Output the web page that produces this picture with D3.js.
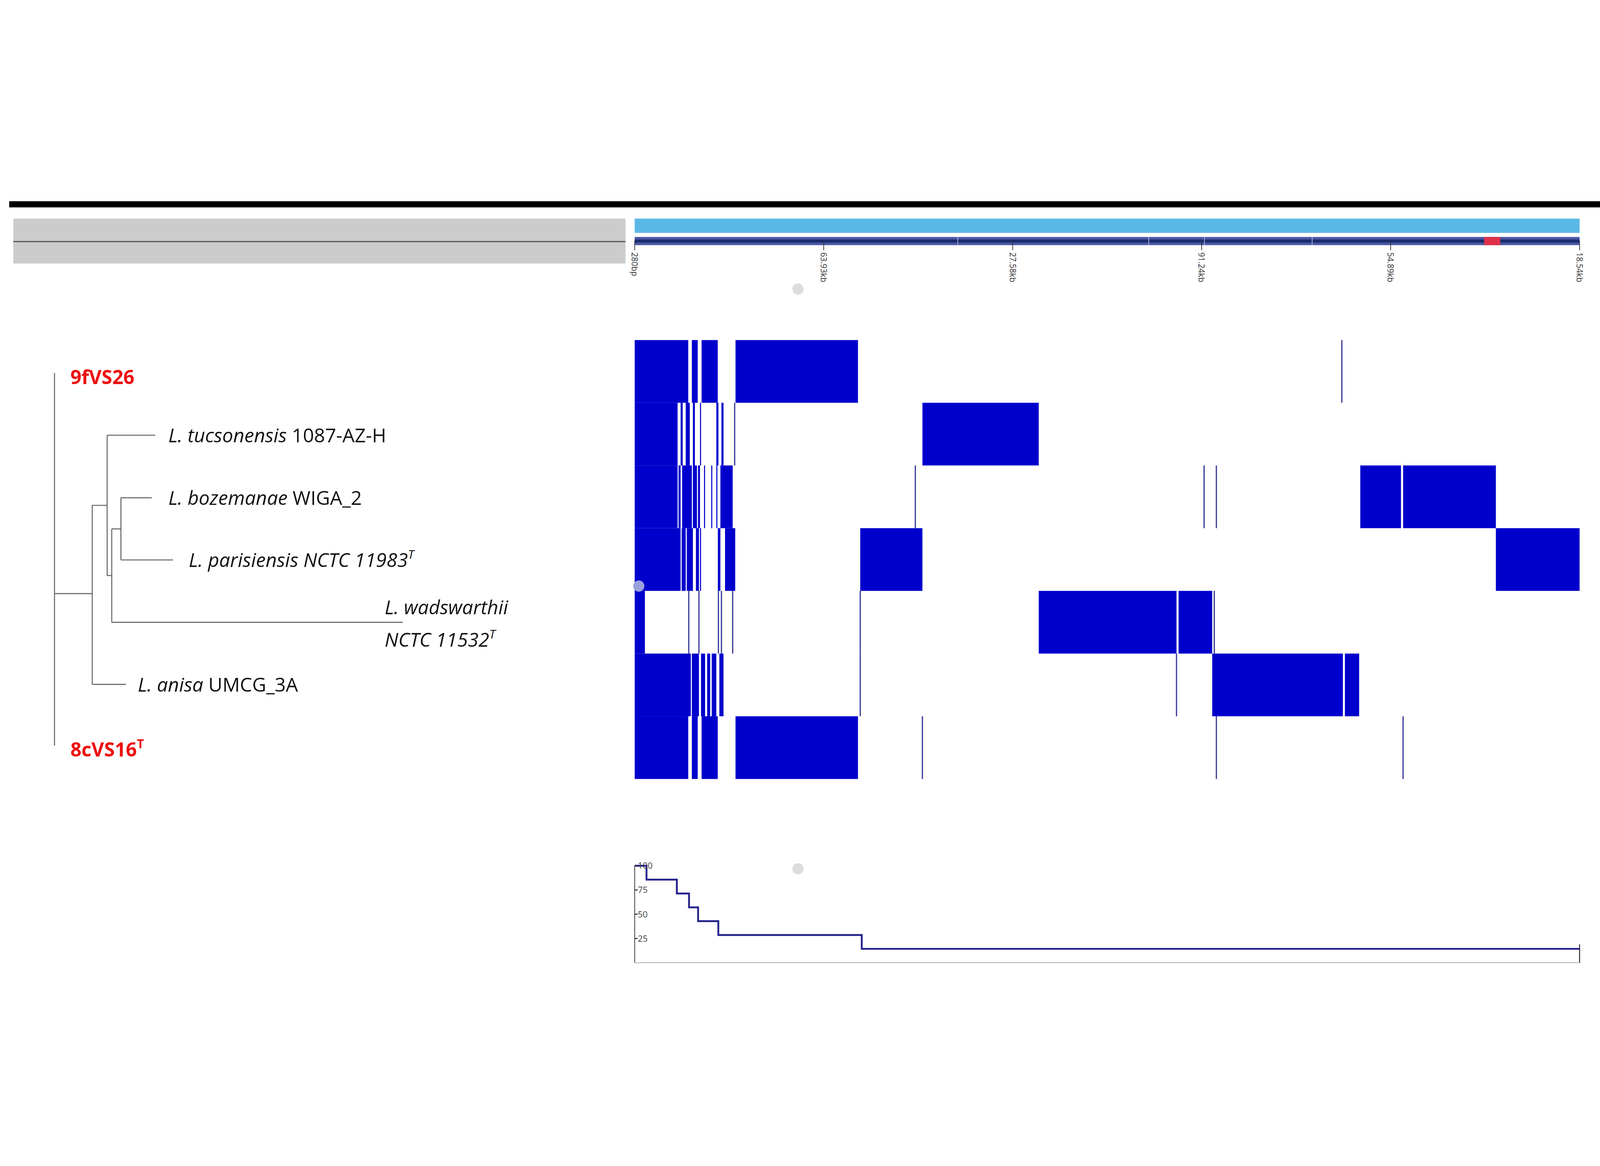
<!DOCTYPE html>
<html>
<head>
<meta charset="utf-8">
<script src="https://cdn.jsdelivr.net/npm/d3@7"></script>
<style>
html,body{margin:0;padding:0;background:#fff;width:100%;height:100%;overflow:hidden;}
#chart{width:100vw;height:100vh;}
text{font-family:"Open Sans",sans-serif;}
</style>
</head>
<body>
<div id="chart"></div>
<script>
// genome tick labels along the top ruler
var tickLabels = ["280bp","63.93kb","27.58kb","91.24kb","54.89kb","18.54kb"];
// aligned blocks per genome row, positions in % of reference genome
var blocks = [
  [[0,5.67],[6.05,6.67],[7.08,8.79],[10.67,23.63]],
  [[0,4.54],[4.86,5.08],[5.40,5.83],[6.16,6.37],[6.91,7.02],[8.64,8.86],[9.18,9.40],[30.45,42.76]],
  [[0,4.54],[4.64,4.86],[5.02,6.05],[6.16,6.59],[6.70,6.91],[7.34,7.45],[8.10,8.21],[8.64,8.75],[9.07,10.37],[76.79,81.10],[81.32,91.14]],
  [[0,4.86],[4.97,5.40],[5.51,6.16],[6.48,6.80],[6.91,7.02],[8.80,9.07],[9.56,10.64],[23.87,30.45],[91.14,100]],
  [[0,1.08],[42.76,57.34],[57.56,61.12]],
  [[0,5.94],[6.05,6.80],[7.02,7.45],[7.67,7.99],[8.15,8.64],[8.96,9.40],[61.12,74.95],[75.16,76.67]],
  [[0,5.67],[6.05,6.67],[7.08,8.79],[10.67,23.63]]
];
// thin single-line matches per row
var thinLines = [
  [74.84],
  [10.58],
  [29.70,60.26,61.56],
  [],
  [5.72,6.80,8.86,9.18,10.37,23.87,61.34],
  [23.87,57.34],
  [30.45,61.56,81.32]
];
// coverage step profile (start %, value)
var stepStarts = [0,1.25,4.46,5.75,6.71,8.85,24.03,100];
var stepValues = [100,85.7,71.4,57.1,42.9,28.6,14.3,14.3];
var yTicks = [25,50,75,100];

// tree leaves
var leaves = [
  {name:"9fVS26", y:183},
  {it:"L. tucsonensis", rest:" 1087-AZ-H", y:241},
  {it:"L. bozemanae", rest:" WIGA_2", y:302.5},
  {it:"L. parisiensis NCTC 11983", sup:"T", y:363.4},
  {it:"L. wadswarthii", it2:"NCTC 11532", sup:"T", y:424.5},
  {it:"L. anisa", rest:" UMCG_3A", y:485.3},
  {name:"8cVS16", sup:"T", y:548}
];

var W = 1568, H = 772;
var svg = d3.select("#chart").append("svg")
  .attr("width", "100%").attr("height", "100%")
  .attr("viewBox", "0 0 " + W + " " + H)
  .attr("preserveAspectRatio", "xMidYMid meet");

var x = d3.scaleLinear().domain([0,100]).range([622,1548]);
var rowY = d3.scaleBand().domain(d3.range(7)).range([148,578]).padding(0);

// top black bar
svg.append("rect").attr("x",9).attr("y",12).attr("width",W-9).attr("height",6).attr("fill","#000");
// grey box with line
svg.append("rect").attr("x",13).attr("y",29).attr("width",600).attr("height",44).attr("fill","#cccccc");
svg.append("line").attr("x1",13).attr("x2",613).attr("y1",51.5).attr("y2",51.5).attr("stroke","#555").attr("stroke-width",1.2);

// overview bars
svg.append("rect").attr("x",x(0)).attr("y",29).attr("width",x(100)-x(0)).attr("height",14).attr("fill","#5ab8e6");
svg.append("rect").attr("x",x(0)).attr("y",47).attr("width",x(100)-x(0)).attr("height",8).attr("fill","#4a56a6");
svg.append("rect").attr("x",x(0)).attr("y",49.5).attr("width",x(100)-x(0)).attr("height",3).attr("fill","#1b2d6e");
svg.append("rect").attr("x",x(89.9)).attr("y",47).attr("width",x(91.6)-x(89.9)).attr("height",8).attr("fill","#e0304a");
[34.2,54.4,60.3,71.7].forEach(function(p){
  svg.append("line").attr("x1",x(p)).attr("x2",x(p)).attr("y1",47).attr("y2",55).attr("stroke","#c8cde8").attr("stroke-width",0.6);
});

var tx = d3.scaleLinear().domain([0,tickLabels.length-1]).range([x(0),x(100)]);
tickLabels.forEach(function(lab,i){
  svg.append("line").attr("x1",tx(i)).attr("x2",tx(i)).attr("y1",51).attr("y2",60).attr("stroke","#333").attr("stroke-width",0.7);
  svg.append("text").attr("transform","translate("+(tx(i)-3)+",62) rotate(90)")
    .attr("font-size",8).attr("fill","#333").attr("font-family","Arial, sans-serif").text(lab);
});

// blocks
blocks.forEach(function(row,r){
  svg.selectAll(null).data(row).enter().append("rect")
    .attr("x",function(d){return x(d[0]);})
    .attr("width",function(d){return Math.max(0.8,x(d[1])-x(d[0]));})
    .attr("y",rowY(r)).attr("height",rowY.bandwidth())
    .attr("fill","#0000cc");
  svg.selectAll(null).data(thinLines[r]).enter().append("line")
    .attr("x1",function(d){return x(d);}).attr("x2",function(d){return x(d);})
    .attr("y1",rowY(r)).attr("y2",rowY(r)+rowY.bandwidth())
    .attr("stroke","#3a3a9a").attr("stroke-width",1.2);
});

// grey dots
[[782,98,"#dddddd"],[782,666,"#dddddd"],[626,389,"#9aa0dd"]].forEach(function(d){
  svg.append("circle").attr("cx",d[0]).attr("cy",d[1]).attr("r",5.5).attr("fill",d[2]);
});

// bottom step chart
var yS = d3.scaleLinear().domain([0,100]).range([758,663]);
svg.append("line").attr("x1",622).attr("x2",622).attr("y1",663).attr("y2",758).attr("stroke","#444").attr("stroke-width",0.8);
svg.append("line").attr("x1",622).attr("x2",1548).attr("y1",758).attr("y2",758).attr("stroke","#bbb").attr("stroke-width",1);
svg.append("line").attr("x1",1548).attr("x2",1548).attr("y1",740).attr("y2",758).attr("stroke","#333").attr("stroke-width",1);
var stepData = stepStarts.map(function(s,i){return [s,stepValues[i]];});
svg.append("path").datum(stepData)
  .attr("d", d3.line().x(function(d){return x(d[0]);}).y(function(d){return yS(d[1]);}).curve(d3.curveStepAfter))
  .attr("fill","none").attr("stroke","#22228a").attr("stroke-width",1.8);
yTicks.forEach(function(t){
  svg.append("line").attr("x1",622).attr("x2",625).attr("y1",yS(t)).attr("y2",yS(t)).attr("stroke","#333");
  svg.append("text").attr("x",625).attr("y",yS(t)+3).attr("font-size",8.5).attr("fill","#444")
    .attr("font-family","Arial, sans-serif").text(t);
});

// tree branches
var seg = [
  [53.4,180.3,53.4,545.3],
  [53.4,396.4,90.4,396.4],
  [90.4,309.9,90.4,485.3],
  [90.4,485.3,123.5,485.3],
  [90.4,309.9,105,309.9],
  [105,241.2,105,378.7],
  [105,241.2,152.1,241.2],
  [105,378.7,109.5,378.7],
  [109.5,333,109.5,424.5],
  [109.5,424.5,394.8,424.5],
  [109.5,333,118.5,333],
  [118.5,302.5,118.5,363.4],
  [118.5,302.5,148.8,302.5],
  [118.5,363.4,169.5,363.4]
];
svg.selectAll(null).data(seg).enter().append("line")
  .attr("x1",function(d){return d[0];}).attr("y1",function(d){return d[1];})
  .attr("x2",function(d){return d[2];}).attr("y2",function(d){return d[3];})
  .attr("stroke","#666").attr("stroke-width",1);

var labelX = [69,165,165,185,377,135,69];
leaves.forEach(function(l,i){
  var t = svg.append("text").attr("x",labelX[i]).attr("font-size",19).attr("fill","#111");
  if (l.name){
    t.attr("y",l.y+8).attr("fill","#ee1111").attr("font-weight","bold").text(l.name);
    if (l.sup) t.append("tspan").attr("font-size",12).attr("dy",-8).text(l.sup);
  } else if (l.it2){
    t.attr("y",l.y-8).append("tspan").attr("font-style","italic").text(l.it);
    var t2 = svg.append("text").attr("x",labelX[i]).attr("y",l.y+24).attr("font-size",19).attr("fill","#111");
    t2.append("tspan").attr("font-style","italic").text(l.it2);
    t2.append("tspan").attr("font-size",12).attr("dy",-8).attr("font-style","italic").text(l.sup);
  } else {
    t.attr("y",l.y+7);
    t.append("tspan").attr("font-style","italic").text(l.it);
    if (l.rest) t.append("tspan").text(l.rest);
    if (l.sup) t.append("tspan").attr("font-size",12).attr("dy",-8).attr("font-style","italic").text(l.sup);
  }
});
</script>
</body>
</html>
